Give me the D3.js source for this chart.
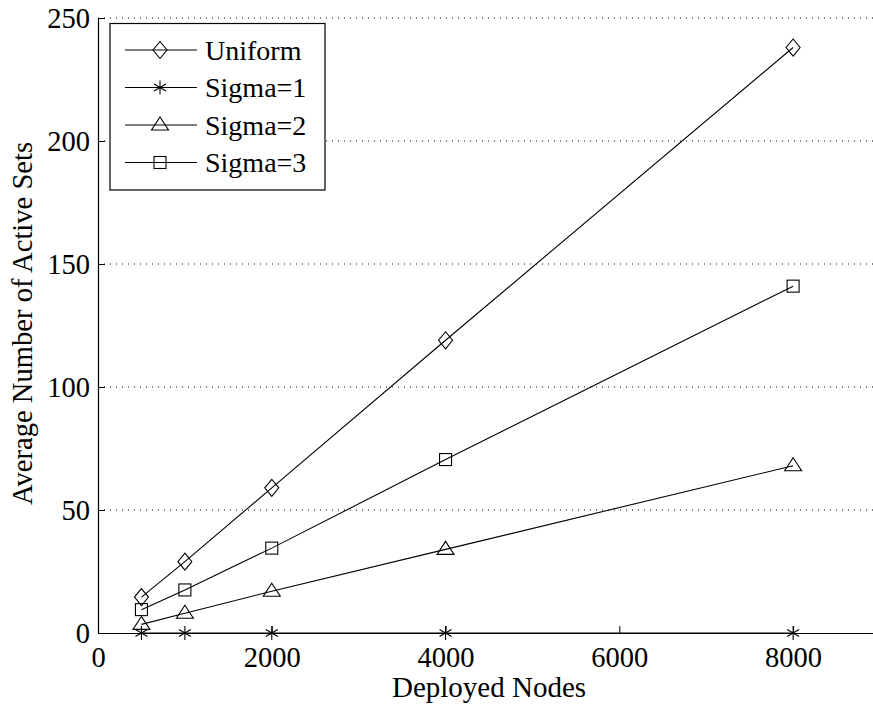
<!DOCTYPE html>
<html>
<head>
<meta charset="utf-8">
<script src="https://cdn.jsdelivr.net/npm/d3@7"></script>
<style>
  html, body { margin: 0; padding: 0; background: #fff; }
  svg { display: block; }
  text { font-family: "Liberation Serif", "Times New Roman", serif; fill: #000; }
</style>
</head>
<body>
<svg id="chart" width="873" height="709"></svg>
<script>
// Deployed node counts (x) and average number of active sets per scheme
const nodes = [500, 1000, 2000, 4000, 8000];
const uniform = [14.6, 29, 59, 119, 238];
const sigma1 = [0, 0, 0, 0, 0];
const sigma2 = [3.5, 8, 17, 34, 68];
const sigma3 = [9.5, 17.5, 34.5, 70.5, 141];
const seriesNames = ["Uniform", "Sigma=1", "Sigma=2", "Sigma=3"];
const seriesMarkers = ["diamond", "star", "triangle", "square"];
const xTicks = [0, 2000, 4000, 6000, 8000];
const yTicks = [0, 50, 100, 150, 200, 250];

(function () {
const svg = d3.select("#chart");
const mLeft = 98, mRight = 880, mTop = 18, mBottom = 633;

const x = d3.scaleLinear().domain([0, 9000]).range([mLeft, mRight]);
const y = d3.scaleLinear().domain([0, 250]).range([mBottom, mTop]);

// Dotted horizontal grid
svg.append("g").selectAll("line").data(yTicks.filter(d => d > 0)).join("line")
  .attr("x1", mLeft).attr("x2", 873)
  .attr("y1", d => y(d)).attr("y2", d => y(d))
  .attr("stroke", "#000").attr("stroke-width", 1)
  .attr("stroke-dasharray", "1,5");

// Axes with inward ticks
const xAxis = d3.axisBottom(x).tickValues(xTicks).tickFormat(d3.format("d"))
  .tickSize(-7).tickPadding(14).tickSizeOuter(0);
const gx = svg.append("g").attr("transform", `translate(0,${mBottom})`).call(xAxis);
const yAxis = d3.axisLeft(y).tickValues(yTicks).tickFormat(d3.format("d"))
  .tickSize(-7).tickPadding(8).tickSizeOuter(0);
const gy = svg.append("g").attr("transform", `translate(${mLeft},0)`).call(yAxis);
[gx, gy].forEach(g => {
  g.attr("font-family", null).attr("font-size", null);
  g.select(".domain").attr("stroke", "#000").attr("stroke-width", 1.2);
  g.selectAll(".tick line").attr("stroke", "#000");
  g.selectAll(".tick text").attr("font-size", 28.5).attr("fill", "#000");
});
gx.selectAll(".tick text").attr("dy", "0.71em");
gy.selectAll(".tick text").attr("dy", "0.35em");

// Axis titles
svg.append("text").attr("x", 489).attr("y", 697)
  .attr("text-anchor", "middle").attr("font-size", 29).text("Deployed Nodes");
svg.append("text").attr("transform", "translate(32,323.5) rotate(-90)")
  .attr("text-anchor", "middle").attr("font-size", 28.6).text("Average Number of Active Sets");

// Marker drawing
function drawMarker(g, type, cx, cy) {
  const s = g.append("g").attr("transform", `translate(${cx},${cy})`)
    .attr("fill", "none").attr("stroke", "#000").attr("stroke-width", 1.1);
  if (type === "diamond") {
    s.append("path").attr("d", "M0,-8.5L7,0L0,8.5L-7,0Z");
  } else if (type === "square") {
    s.append("rect").attr("x", -6).attr("y", -6).attr("width", 12).attr("height", 12);
  } else if (type === "triangle") {
    s.append("path").attr("d", "M0,-8L8.5,5L-8.5,5Z");
  } else if (type === "star") {
    s.append("path").attr("d", "M0,-7L0,7M-6,-3.5L6,3.5M-6,3.5L6,-3.5");
  }
}

const allSeries = [uniform, sigma1, sigma2, sigma3];
const line = d3.line().x((d, i) => x(nodes[i])).y(d => y(d));
allSeries.forEach((vals, k) => {
  svg.append("path").datum(vals).attr("d", line)
    .attr("fill", "none").attr("stroke", "#000").attr("stroke-width", 1.1);
  const g = svg.append("g");
  vals.forEach((v, i) => drawMarker(g, seriesMarkers[k], x(nodes[i]), y(v)));
});

// Legend
const lg = svg.append("g");
lg.append("rect").attr("x", 110).attr("y", 23.5).attr("width", 215).attr("height", 166.5)
  .attr("fill", "#fff").attr("stroke", "#000").attr("stroke-width", 1.2);
seriesNames.forEach((name, k) => {
  const ly = 50 + k * 37.5;
  lg.append("line").attr("x1", 125).attr("x2", 197).attr("y1", ly).attr("y2", ly)
    .attr("stroke", "#000").attr("stroke-width", 1.1);
  drawMarker(lg, seriesMarkers[k], 160, ly);
  lg.append("text").attr("x", 205).attr("y", ly).attr("dy", "0.35em")
    .attr("font-size", 28).text(name);
});
})();
</script>
</body>
</html>
